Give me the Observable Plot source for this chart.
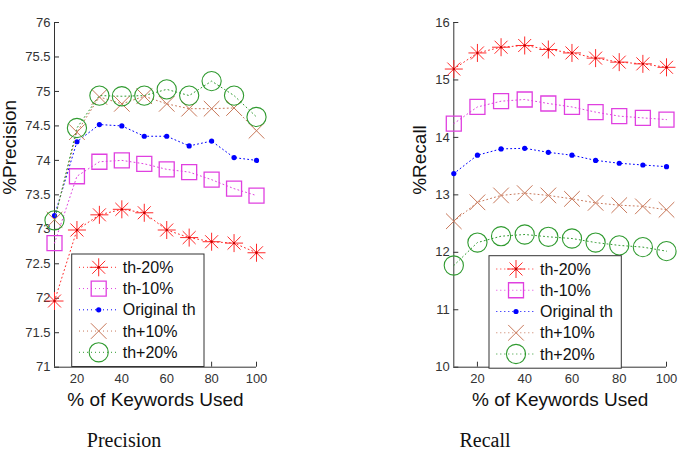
<!DOCTYPE html>
<html><head><meta charset="utf-8">
<script src="https://cdn.jsdelivr.net/npm/d3@7"></script>
<script src="https://cdn.jsdelivr.net/npm/@observablehq/plot@0.6"></script>
<style>
body{margin:0;background:#fff;}
#wrap{position:relative;width:689px;height:452px;background:#fff;overflow:hidden;}
.pl{position:absolute;top:0;}
.cap{position:absolute;font-family:"Liberation Serif","DejaVu Serif",serif;font-size:20px;line-height:20px;top:430px;transform:translateX(-50%);white-space:nowrap;color:#111;}
</style></head><body><div id="wrap"></div>
<script>
// ---- data ----
const keywords = [10, 20, 30, 40, 50, 60, 70, 80, 90, 100];
const seriesNames = ["th-20%", "th-10%", "Original th", "th+10%", "th+20%"];
const xTicks = [20, 40, 60, 80, 100];
const precisionTicks = [71, 71.5, 72, 72.5, 73, 73.5, 74, 74.5, 75, 75.5, 76];
const recallTicks = [10, 11, 12, 13, 14, 15, 16];

const precisionM20 = [71.96, 72.99, 73.21, 73.29, 73.24, 72.99, 72.88, 72.82, 72.80, 72.66];
const precisionM10 = [72.80, 73.77, 73.98, 74.00, 73.95, 73.87, 73.83, 73.72, 73.59, 73.49];
const precisionOrig = [73.20, 74.27, 74.52, 74.50, 74.35, 74.35, 74.21, 74.28, 74.04, 74.00];
const precisionP10 = [73.14, 74.41, 74.92, 74.82, 74.93, 74.82, 74.75, 74.75, 74.76, 74.43];
const precisionP20 = [73.13, 74.47, 74.94, 74.93, 74.94, 75.03, 74.94, 75.15, 74.94, 74.63];

const recallM20 = [15.19, 15.47, 15.57, 15.60, 15.53, 15.47, 15.38, 15.31, 15.28, 15.22];
const recallM10 = [14.24, 14.53, 14.63, 14.66, 14.59, 14.53, 14.44, 14.37, 14.34, 14.31];
const recallOrig = [13.37, 13.69, 13.80, 13.81, 13.74, 13.69, 13.60, 13.55, 13.52, 13.49];
const recallP10 = [12.54, 12.87, 12.99, 13.03, 12.99, 12.93, 12.86, 12.82, 12.80, 12.74];
const recallP20 = [11.77, 12.17, 12.28, 12.31, 12.27, 12.24, 12.17, 12.12, 12.09, 12.02];

// ---- styles ----
const colors = ["#ff2a2a", "#e040e0", "#0000ff", "#c8785a", "#2f9a2f"];
const star8 = {draw(c, s){const r=Math.sqrt(s/Math.PI), d=r*0.72;
  c.moveTo(-r,0);c.lineTo(r,0);c.moveTo(0,-r);c.lineTo(0,r);
  c.moveTo(-d,-d);c.lineTo(d,d);c.moveTo(-d,d);c.lineTo(d,-d);}};
const square = {draw(c, s){const r=Math.sqrt(s/Math.PI); c.rect(-r,-r,2*r,2*r);}};
const xcross = {draw(c, s){const r=Math.sqrt(s/Math.PI);
  c.moveTo(-r,-r);c.lineTo(r,r);c.moveTo(-r,r);c.lineTo(r,-r);}};
const circ = {draw(c, s){const r=Math.sqrt(s/Math.PI); c.moveTo(r,0); c.arc(0,0,r,0,2*Math.PI);}};
const dotSym = {draw(c, s){const r=Math.sqrt(s/Math.PI); c.moveTo(r,0); c.arc(0,0,r,0,2*Math.PI);}};
const symbols = [star8, square, dotSym, xcross, circ];
const radii = [9, 7.5, 2.6, 7.8, 9.6];
const filled = [false, false, true, false, false];
const widths = [1, 1.3, 1, 1, 1.1];

const font = "'Liberation Sans', Arial, sans-serif";

function makeChart({seriesValues, yDomain, yTicks, yLabel, width, marginLeft, marginRight, ylabelDx}) {
  const marks = [];
  seriesValues.forEach((vals, i) => {
    const rows = keywords.map((k, j) => ({k, v: vals[j], s: seriesNames[i]}));
    marks.push(Plot.line(rows, {x: "k", y: "v", stroke: colors[i], strokeWidth: 1, strokeDasharray: "1,3"}));
    marks.push(Plot.dot(rows, {x: "k", y: "v", symbol: () => symbols[i], r: radii[i],
      stroke: filled[i] ? "none" : colors[i], fill: filled[i] ? colors[i] : "none", strokeWidth: widths[i]}));
    if (i === 0) marks.push(Plot.dot(rows, {x: "k", y: "v", r: 1.2, fill: "#c00000", stroke: "none"}));
  });
  const plot = Plot.plot({
    width, height: 410, marginLeft, marginRight, marginTop: 22, marginBottom: 43.3,
    style: {fontFamily: font, background: "transparent", overflow: "visible"},
    x: {domain: [10, 100]},
    y: {domain: yDomain},
    marks: [
      Plot.ruleX([10], {stroke: "#333"}),
      Plot.ruleY([yDomain[0]], {stroke: "#333"}),
      Plot.axisX(xTicks, {tickSize: -5, tickPadding: 12, fontSize: 13, color: "#333", label: null, tickFormat: d => d}),
      Plot.axisY(yTicks, {tickSize: -5, tickPadding: 9, fontSize: 13, color: "#333", label: null, tickFormat: d => d}),
      Plot.text(["% of Keywords Used"], {text: d => d, frameAnchor: "bottom", dy: 38.3, lineAnchor: "bottom", fontSize: 19, fill: "#111"}),
      Plot.text([yLabel], {text: d => d, frameAnchor: "left", dx: ylabelDx, rotate: -90, lineAnchor: "bottom", fontSize: 19, fill: "#111"}),
      ...marks
    ]
  });
  return plot;
}

function addLegend(svg, left, top) {
  const g = d3.select(svg).append("g").attr("text-anchor", "start");
  g.append("rect").attr("x", left).attr("y", top).attr("width", 132.3).attr("height", 112.5)
    .attr("fill", "white").attr("stroke", "#333").attr("stroke-width", 1);
  seriesNames.forEach((name, i) => {
    const cy = top + 13.3 + i * 21.25;
    g.append("line").attr("x1", left + 7.3).attr("x2", left + 47.3).attr("y1", cy).attr("y2", cy)
      .attr("stroke", colors[i]).attr("stroke-dasharray", "1,3");
    g.append("path").attr("transform", `translate(${left + 27},${cy})`)
      .attr("d", d3.symbol(symbols[i], Math.PI * radii[i] * radii[i])())
      .attr("fill", filled[i] ? colors[i] : "none").attr("stroke", filled[i] ? "none" : colors[i])
      .attr("stroke-width", widths[i]);
    if (i === 0) g.append("circle").attr("cx", left + 27).attr("cy", cy).attr("r", 1.4).attr("fill", "#c00000");
    g.append("text").attr("x", left + 51).attr("y", cy).attr("dy", "0.35em").attr("text-anchor", "start")
      .attr("font-size", 16).attr("font-family", font).attr("fill", "#111").text(name);
  });
}

const wrap = document.getElementById("wrap");

const p1 = makeChart({
  seriesValues: [precisionM20, precisionM10, precisionOrig, precisionP10, precisionP20],
  yDomain: [71, 76], yTicks: precisionTicks, yLabel: "%Precision",
  width: 310, marginLeft: 54, marginRight: 54, ylabelDx: -39
});
p1.classList.add("pl"); p1.style.left = "0px";
addLegend(p1, 71.7, 254);
wrap.appendChild(p1);

const p2 = makeChart({
  seriesValues: [recallM20, recallM10, recallOrig, recallP10, recallP20],
  yDomain: [10, 16], yTicks: recallTicks, yLabel: "%Recall",
  width: 309, marginLeft: 73.3, marginRight: 23, ylabelDx: -28
});
p2.classList.add("pl"); p2.style.left = "380px";
addLegend(p2, 109, 255.7);
wrap.appendChild(p2);

const c1 = document.createElement("div"); c1.className = "cap"; c1.style.left = "124px"; c1.textContent = "Precision";
const c2 = document.createElement("div"); c2.className = "cap"; c2.style.left = "485px"; c2.textContent = "Recall";
wrap.appendChild(c1); wrap.appendChild(c2);
</script>
</body></html>
